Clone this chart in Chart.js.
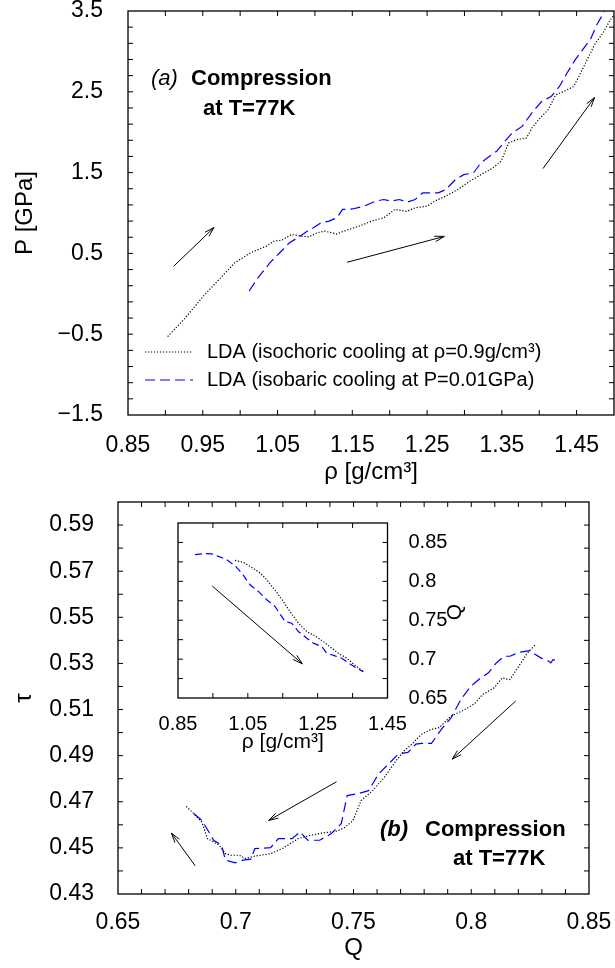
<!DOCTYPE html>
<html>
<head>
<meta charset="utf-8">
<script src="https://cdn.jsdelivr.net/npm/chart.js@4.4.0/dist/chart.umd.min.js"></script>
<style>
  html, body { margin: 0; padding: 0; background: #fff; overflow: hidden; }
  body { position: relative; width: 615px; height: 968px; }
  canvas { position: absolute; }
</style>
</head>
<body>
<canvas id="top" width="640" height="520" style="left:0;top:-20px"></canvas>
<canvas id="bottom" width="640" height="508" style="left:0;top:460px"></canvas>
<canvas id="inset" width="340" height="265" style="left:150px;top:495px"></canvas>
<script>
// ---- panel (a): P vs rho ----
const rhoIsoA = [0.903, 0.925, 0.951, 0.972, 0.993, 1.014, 1.035, 1.045, 1.056, 1.069, 1.082, 1.092, 1.103, 1.113, 1.129, 1.139, 1.160, 1.176, 1.192, 1.207, 1.223, 1.234, 1.250, 1.260, 1.275, 1.291, 1.307, 1.322, 1.338, 1.349, 1.359, 1.370, 1.383, 1.390, 1.401, 1.412, 1.422, 1.433, 1.446, 1.453, 1.464, 1.475, 1.485, 1.495, 1.500];
const pIsoA = [-0.53, -0.315, -0.027, 0.18, 0.385, 0.508, 0.59, 0.65, 0.665, 0.735, 0.714, 0.705, 0.755, 0.776, 0.74, 0.776, 0.84, 0.90, 0.94, 1.044, 1.02, 1.064, 1.085, 1.146, 1.21, 1.29, 1.393, 1.475, 1.557, 1.64, 1.866, 1.907, 1.928, 2.05, 2.175, 2.278, 2.463, 2.504, 2.566, 2.69, 2.895, 3.10, 3.224, 3.39, 3.45];
const rhoIsobA = [1.012, 1.024, 1.040, 1.053, 1.066, 1.077, 1.090, 1.098, 1.108, 1.119, 1.129, 1.137, 1.150, 1.166, 1.181, 1.192, 1.202, 1.213, 1.223, 1.234, 1.244, 1.254, 1.265, 1.275, 1.288, 1.299, 1.312, 1.322, 1.333, 1.343, 1.354, 1.364, 1.377, 1.390, 1.403, 1.416, 1.427, 1.437, 1.448, 1.458, 1.469, 1.477, 1.487];
const pIsobA = [0.035, 0.20, 0.385, 0.508, 0.632, 0.694, 0.776, 0.817, 0.879, 0.90, 0.94, 1.044, 1.05, 1.085, 1.146, 1.167, 1.146, 1.167, 1.134, 1.167, 1.25, 1.25, 1.25, 1.29, 1.414, 1.475, 1.496, 1.62, 1.70, 1.763, 1.887, 1.99, 2.072, 2.237, 2.38, 2.442, 2.566, 2.73, 2.895, 3.02, 3.16, 3.33, 3.49];
const rhoTicksA = [0.85, 0.95, 1.05, 1.15, 1.25, 1.35, 1.45];
const rhoLabelsA = ['0.85', '0.95', '1.05', '1.15', '1.25', '1.35', '1.45'];
const pTicksA = [-1.5, -0.5, 0.5, 1.5, 2.5, 3.5];
const pLabelsA = ['\u22121.5', '\u22120.5', '0.5', '1.5', '2.5', '3.5'];
const arrowsA = [[0.911, 0.34, 0.965, 0.82], [1.143, 0.39, 1.273, 0.71], [1.405, 1.55, 1.474, 2.43]];

// ---- panel (b): tau vs Q ----
const qIsoB = [0.679, 0.6815, 0.6856, 0.688, 0.6906, 0.693, 0.6956, 0.698, 0.7015, 0.704, 0.7081, 0.7148, 0.7198, 0.7265, 0.7315, 0.7365, 0.7431, 0.7465, 0.7498, 0.7532, 0.7581, 0.7631, 0.7681, 0.7715, 0.7748, 0.7789, 0.7831, 0.7865, 0.7914, 0.7965, 0.8014, 0.8048, 0.8097, 0.8131, 0.8164, 0.8197, 0.8238, 0.8272];
const tauIsoB = [0.468, 0.4655, 0.4612, 0.454, 0.4526, 0.4511, 0.4475, 0.4468, 0.4468, 0.4454, 0.4464, 0.4475, 0.4497, 0.454, 0.4554, 0.4564, 0.4573, 0.459, 0.4619, 0.4705, 0.4748, 0.4806, 0.4878, 0.4921, 0.495, 0.4993, 0.5014, 0.5022, 0.5072, 0.5096, 0.5125, 0.5165, 0.5194, 0.5237, 0.523, 0.528, 0.5345, 0.5381];
const qIsobB = [0.6823, 0.6856, 0.689, 0.6906, 0.694, 0.6956, 0.6998, 0.7031, 0.7064, 0.7081, 0.7148, 0.7181, 0.7239, 0.7273, 0.7306, 0.7356, 0.7406, 0.7448, 0.7473, 0.7514, 0.7564, 0.7606, 0.7648, 0.769, 0.7731, 0.7765, 0.779, 0.7831, 0.7873, 0.7915, 0.7956, 0.7998, 0.804, 0.8073, 0.8106, 0.814, 0.8164, 0.8206, 0.8247, 0.8297, 0.833, 0.8338, 0.8347, 0.8363];
const tauIsobB = [0.4648, 0.4619, 0.4562, 0.4533, 0.4511, 0.4447, 0.4435, 0.4447, 0.4451, 0.4497, 0.4501, 0.454, 0.454, 0.4569, 0.4533, 0.4533, 0.4562, 0.4605, 0.4727, 0.4734, 0.4748, 0.482, 0.4863, 0.4907, 0.4914, 0.495, 0.4953, 0.4953, 0.5014, 0.5065, 0.5144, 0.5201, 0.5237, 0.5259, 0.5302, 0.5331, 0.5331, 0.5349, 0.5355, 0.5323, 0.5309, 0.5302, 0.5316, 0.5312];
const qTicksB = [0.65, 0.7, 0.75, 0.8, 0.85];
const qLabelsB = ['0.65', '0.7', '0.75', '0.8', '0.85'];
const tauTicksB = [0.43, 0.45, 0.47, 0.49, 0.51, 0.53, 0.55, 0.57, 0.59];
const tauLabelsB = ['0.43', '0.45', '0.47', '0.49', '0.51', '0.53', '0.55', '0.57', '0.59'];
const arrowsB = [[0.6828, 0.4422, 0.6727, 0.4564], [0.7428, 0.4787, 0.714, 0.4619], [0.8189, 0.5137, 0.7919, 0.4885]];

// ---- inset: Q vs rho ----
const rhoIsoC = [1.0133, 1.0371, 1.0612, 1.085, 1.1042, 1.1328, 1.1517, 1.1709, 1.1948, 1.2188, 1.2425, 1.2664, 1.2904, 1.3093, 1.3334, 1.3523, 1.3809];
const qIsoC = [0.8269, 0.8244, 0.8179, 0.8107, 0.8021, 0.7857, 0.7741, 0.7612, 0.7462, 0.7355, 0.7299, 0.7226, 0.714, 0.7076, 0.7011, 0.6938, 0.6839];
const rhoIsobC = [0.8987, 0.927, 0.9465, 0.9656, 0.9894, 1.0133, 1.0325, 1.0563, 1.0802, 1.1042, 1.1279, 1.1374, 1.1566, 1.1758, 1.1948, 1.2188, 1.2377, 1.2617, 1.2761, 1.2999, 1.3191, 1.3428, 1.362, 1.3809];
const qIsobC = [0.8343, 0.8356, 0.8352, 0.8321, 0.8278, 0.8201, 0.8107, 0.7956, 0.787, 0.7763, 0.7677, 0.7612, 0.7483, 0.7462, 0.7355, 0.7269, 0.7205, 0.7161, 0.7076, 0.7041, 0.7011, 0.6938, 0.6882, 0.6839];
const rhoTicksC = [0.85, 1.05, 1.25, 1.45];
const rhoLabelsC = ['0.85', '1.05', '1.25', '1.45'];
const qTicksC = [0.65, 0.7, 0.75, 0.8, 0.85];
const qLabelsC = ['0.65', '0.7', '0.75', '0.8', '0.85'];
const arrowsC = [[0.948, 0.794, 1.206, 0.694]];

const legendLabels = ['LDA (isochoric cooling at \u03c1=0.9g/cm\u00b3)', 'LDA (isobaric cooling at P=0.01GPa)'];

const FONT = '"Liberation Sans", Arial, Helvetica, sans-serif';
Chart.defaults.font.family = FONT;
Chart.defaults.color = '#000';

const dotted = { borderColor: '#000', borderWidth: 1.2, borderDash: [1.2, 1.8], pointRadius: 0, showLine: true, tension: 0 };
const dashed = { borderColor: '#0000ff', borderWidth: 1.2, borderDash: [10, 5], pointRadius: 0, showLine: true, tension: 0 };
const toPoints = (xs, ys) => xs.map((x, i) => ({ x: x, y: ys[i] }));

function linAxis(o) {
  return {
    type: 'linear',
    position: o.position,
    min: o.min, max: o.max,
    grid: { display: false },
    border: { display: false },
    afterBuildTicks: s => { s.ticks = o.ticks.map(v => ({ value: v })); },
    afterFit: s => { if (o.horizontal) s.height = o.size; else s.width = o.size; },
    ticks: { autoSkip: false, maxRotation: 0, padding: o.pad, font: { size: o.font }, callback: (v, i) => o.labels[i] },
    title: { display: !!o.title, text: o.title, font: { size: o.titleFont }, padding: o.titlePad }
  };
}

function drawArrow(ctx, x1, y1, x2, y2) {
  const ang = Math.atan2(y2 - y1, x2 - x1), h = 10, w = 0.28;
  ctx.beginPath();
  ctx.moveTo(x1, y1);
  ctx.lineTo(x2, y2);
  ctx.moveTo(x2 - h * Math.cos(ang - w), y2 - h * Math.sin(ang - w));
  ctx.lineTo(x2, y2);
  ctx.lineTo(x2 - h * Math.cos(ang + w), y2 - h * Math.sin(ang + w));
  ctx.stroke();
}

// frame with inward ticks on all sides, arrows, text notes and a key
function makeFrame(cfg) {
  return {
    id: 'frame',
    beforeDraw(chart) {
      if (!cfg.fill) return;
      const a = chart.chartArea, ctx = chart.ctx;
      ctx.save();
      ctx.fillStyle = '#fff';
      ctx.fillRect(a.left, a.top, a.right - a.left, a.bottom - a.top);
      ctx.restore();
    },
    afterDraw(chart) {
      const { ctx, chartArea: a } = chart;
      const x = chart.scales.x, y = chart.scales.y;
      ctx.save();
      ctx.strokeStyle = '#000';
      ctx.lineWidth = 1.3;
      ctx.strokeRect(a.left, a.top, a.right - a.left, a.bottom - a.top);

      ctx.lineWidth = 1;
      ctx.beginPath();
      const len = cfg.tickLen;
      const nx = Math.round((x.max - x.min) / cfg.stepX);
      for (let i = 1; i < nx; i++) {
        const px = x.getPixelForValue(x.min + i * cfg.stepX);
        ctx.moveTo(px, a.bottom); ctx.lineTo(px, a.bottom - len);
        ctx.moveTo(px, a.top); ctx.lineTo(px, a.top + len);
      }
      const ny = Math.round((y.max - y.min) / cfg.stepY);
      for (let i = 1; i < ny; i++) {
        const py = y.getPixelForValue(y.min + i * cfg.stepY);
        ctx.moveTo(a.left, py); ctx.lineTo(a.left + len, py);
        ctx.moveTo(a.right, py); ctx.lineTo(a.right - len, py);
      }
      ctx.stroke();

      ctx.lineWidth = 1;
      (cfg.arrows || []).forEach(ar => {
        drawArrow(ctx, x.getPixelForValue(ar[0]), y.getPixelForValue(ar[1]),
                  x.getPixelForValue(ar[2]), y.getPixelForValue(ar[3]));
      });

      ctx.fillStyle = '#000';
      (cfg.texts || []).forEach(t => {
        ctx.save();
        ctx.font = t.font;
        ctx.textAlign = t.align || 'left';
        ctx.textBaseline = t.baseline || 'alphabetic';
        ctx.translate(a.left + t.dx, a.top + t.dy);
        if (t.rotate) ctx.rotate(t.rotate);
        ctx.fillText(t.text, 0, 0);
        ctx.restore();
      });

      if (cfg.key) {
        const k = cfg.key;
        chart.data.datasets.forEach((ds, i) => {
          const yy = a.top + k.dy + i * k.rowGap;
          ctx.save();
          ctx.strokeStyle = ds.borderColor;
          ctx.lineWidth = ds.borderWidth;
          ctx.setLineDash(ds.borderDash);
          ctx.beginPath();
          ctx.moveTo(a.left + k.dx, yy);
          ctx.lineTo(a.left + k.dx + k.sampleLen, yy);
          ctx.stroke();
          ctx.restore();
          ctx.font = k.font;
          ctx.textAlign = 'left';
          ctx.textBaseline = 'middle';
          ctx.fillText(ds.label, a.left + k.dx + k.sampleLen + k.textGap, yy);
        });
      }
      ctx.restore();
    }
  };
}

const baseOptions = {
  responsive: false,
  animation: false,
  events: []
};

// top panel (a)
new Chart(document.getElementById('top'), {
  type: 'scatter',
  data: {
    datasets: [
      Object.assign({ label: legendLabels[0], data: toPoints(rhoIsoA, pIsoA) }, dotted),
      Object.assign({ label: legendLabels[1], data: toPoints(rhoIsobA, pIsobA) }, dashed)
    ]
  },
  options: Object.assign({}, baseOptions, {
    layout: { padding: { left: 0, top: 31, right: 26, bottom: 0 } },
    scales: {
      x: linAxis({ horizontal: true, position: 'bottom', min: 0.85, max: 1.5, ticks: rhoTicksA, labels: rhoLabelsA,
        size: 85, pad: 9, font: 23, title: '\u03c1 [g/cm\u00b3]', titleFont: 24, titlePad: { top: 0, bottom: 13 } }),
      y: linAxis({ position: 'left', min: -1.5, max: 3.5, ticks: pTicksA, labels: pLabelsA,
        size: 128, pad: 17, font: 23, title: 'P [GPa]', titleFont: 24, titlePad: { top: 11, bottom: 0 } })
    },
    plugins: { legend: { display: false }, tooltip: { enabled: false } }
  }),
  plugins: [makeFrame({
    stepX: 0.05, stepY: 0.2, tickLen: 5, arrows: arrowsA,
    texts: [
      { text: '(a)', dx: 23, dy: 74, font: 'italic 22px ' + FONT },
      { text: 'Compression', dx: 63, dy: 74, font: 'bold 22px ' + FONT },
      { text: 'at T=77K', dx: 75, dy: 104, font: 'bold 22px ' + FONT }
    ],
    key: { dx: 17, dy: 341, rowGap: 28, sampleLen: 48, textGap: 14, font: '20px ' + FONT }
  })]
});

// bottom panel (b)
new Chart(document.getElementById('bottom'), {
  type: 'scatter',
  data: {
    datasets: [
      Object.assign({ label: legendLabels[0], data: toPoints(qIsoB, tauIsoB) }, dotted),
      Object.assign({ label: legendLabels[1], data: toPoints(qIsobB, tauIsobB) }, dashed)
    ]
  },
  options: Object.assign({}, baseOptions, {
    layout: { padding: { left: 0, top: 42, right: 51, bottom: 0 } },
    scales: {
      x: linAxis({ horizontal: true, position: 'bottom', min: 0.65, max: 0.85, ticks: qTicksB, labels: qLabelsB,
        size: 74, pad: 7, font: 23, title: 'Q', titleFont: 24, titlePad: { top: 0, bottom: 5 } }),
      y: linAxis({ position: 'left', min: 0.43, max: 0.60, ticks: tauTicksB, labels: tauLabelsB,
        size: 118, pad: 16, font: 23, title: '\u03c4', titleFont: 24, titlePad: { top: 10, bottom: 0 } })
    },
    plugins: { legend: { display: false }, tooltip: { enabled: false } }
  }),
  plugins: [makeFrame({
    stepX: 0.01, stepY: 0.01, tickLen: 5, arrows: arrowsB,
    texts: [
      { text: '(b)', dx: 262, dy: 334, font: 'italic bold 22px ' + FONT },
      { text: 'Compression', dx: 307, dy: 334, font: 'bold 22px ' + FONT },
      { text: 'at T=77K', dx: 335, dy: 363, font: 'bold 22px ' + FONT }
    ]
  })]
});

// inset of panel (b)
new Chart(document.getElementById('inset'), {
  type: 'scatter',
  data: {
    datasets: [
      Object.assign({ label: legendLabels[0], data: toPoints(rhoIsoC, qIsoC) }, dotted),
      Object.assign({ label: legendLabels[1], data: toPoints(rhoIsobC, qIsobC) }, dashed, { borderDash: [7, 4] })
    ]
  },
  options: Object.assign({}, baseOptions, {
    layout: { padding: { left: 28, top: 28, right: 0, bottom: 0 } },
    scales: {
      x: linAxis({ horizontal: true, position: 'bottom', min: 0.85, max: 1.45, ticks: rhoTicksC, labels: rhoLabelsC,
        size: 62, pad: 6, font: 20, title: '\u03c1 [g/cm\u00b3]', titleFont: 21, titlePad: { top: 0, bottom: 5 } }),
      y: linAxis({ position: 'right', min: 0.65, max: 0.875, ticks: qTicksC, labels: qLabelsC,
        size: 102.5, pad: 13, font: 20 })
    },
    plugins: { legend: { display: false }, tooltip: { enabled: false } }
  }),
  plugins: [makeFrame({
    fill: true, stepX: 0.1, stepY: 0.025, tickLen: 5, arrows: arrowsC,
    texts: [
      { text: 'Q', dx: 277, dy: 89, align: 'center', baseline: 'middle', rotate: -Math.PI / 2, font: '21px ' + FONT }
    ]
  })]
});
</script>
</body>
</html>
